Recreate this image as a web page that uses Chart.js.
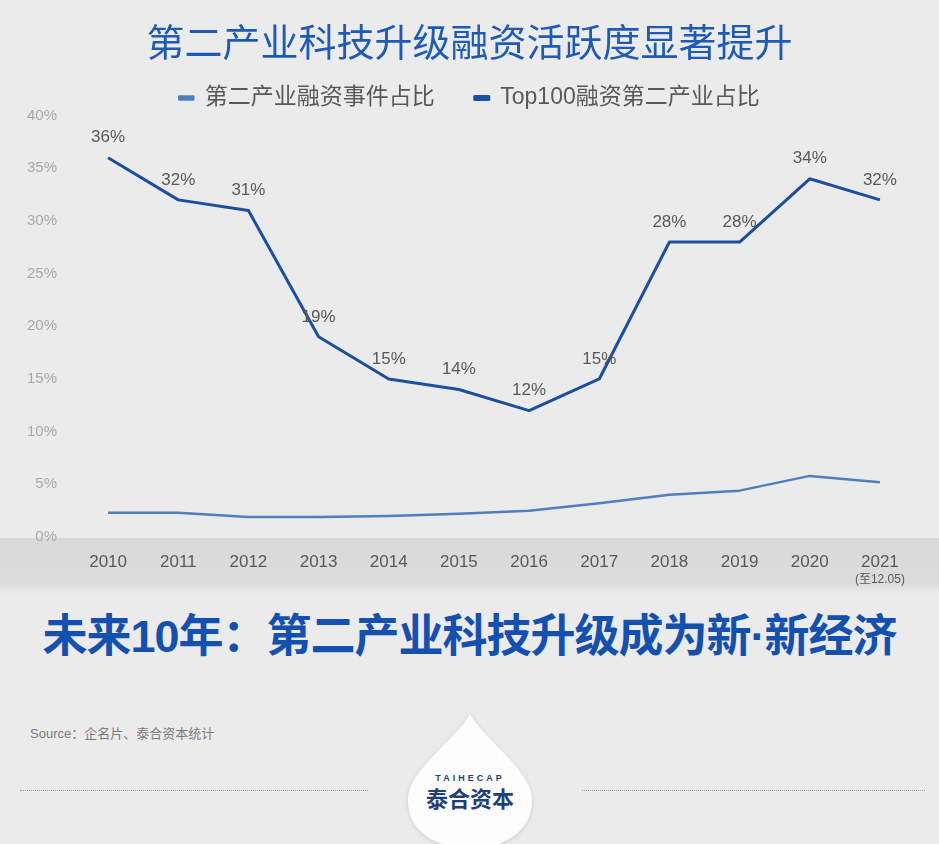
<!DOCTYPE html>
<html>
<head>
<meta charset="utf-8">
<script src="https://cdn.jsdelivr.net/npm/chart.js@4.4.0/dist/chart.umd.min.js"></script>
<style>
  html, body { margin: 0; padding: 0; }
  body { width: 939px; height: 844px; background: #ebebeb; position: relative; overflow: hidden;
         font-family: "Liberation Sans", "Noto Sans CJK SC", sans-serif; }
  #wrap { position: absolute; left: 0; top: 0; width: 939px; height: 600px; }
  .sub { position: absolute; left: 0; width: 939px; top: 600px; text-align: center;
         font: bold 45px "Liberation Sans", "Noto Sans CJK SC", sans-serif; color: #1450b0; letter-spacing: -1px; }
  .src { position: absolute; left: 30px; top: 723px; font: 13px "Liberation Sans", "Noto Sans CJK SC", sans-serif; color: #7a7a7a; }
  .rule { position: absolute; top: 790px; height: 0; border-top: 1px dotted #9aa6b8; }
  .logo { position: absolute; left: 400px; top: 708px; width: 140px; height: 136px; }
</style>
</head>
<body>
<div id="wrap"><canvas id="c"></canvas></div>
<div class="sub">未来10年：第二产业科技升级成为新·新经济</div>
<div class="src">Source：企名片、泰合资本统计</div>
<div class="rule" style="left:20px;width:348px"></div>
<div class="rule" style="left:582px;width:343px"></div>
<svg class="logo" viewBox="0 0 140 136">
  <defs>
    <filter id="sh" x="-20%" y="-20%" width="140%" height="140%">
      <feDropShadow dx="0" dy="1" stdDeviation="2" flood-color="#000" flood-opacity="0.15"/>
    </filter>
  </defs>
  <path d="M70 6 C82 30 132 62 132 92 C132 124 104 140 70 140 C36 140 8 124 8 92 C8 62 58 30 70 6 Z" fill="#fdfdfd" filter="url(#sh)"/>
  <text x="70" y="73" text-anchor="middle" font-family="Liberation Sans" font-weight="bold" font-size="9" letter-spacing="3" fill="#1d3f7a">TAIHECAP</text>
  <text x="70" y="99" text-anchor="middle" font-family="Noto Sans CJK SC" font-weight="bold" font-size="22" fill="#1d3f7a">泰合资本</text>
</svg>
<script>
var years = ['2010', '2011', '2012', '2013', '2014', '2015', '2016', '2017', '2018', '2019', '2020', '2021'];
var eventShare = [2.3, 2.3, 1.9, 1.9, 2.0, 2.2, 2.5, 3.2, 4.0, 4.4, 5.8, 5.2];
var top100Share = [36, 32, 31, 19, 15, 14, 12, 15, 28, 28, 34, 32];
var seriesNames = ['第二产业融资事件占比', 'Top100融资第二产业占比'];
var lastYearNote = '(至12.05)';

var CN = '"Liberation Sans", "Noto Sans CJK SC", sans-serif';

// band behind the x labels, plus the small note under 2021
var bandPlugin = {
  id: 'band',
  beforeDraw: function (chart) {
    var ctx = chart.ctx, a = chart.chartArea;
    var g = ctx.createLinearGradient(0, a.bottom, 0, a.bottom + 62);
    g.addColorStop(0, '#d9d9d9');
    g.addColorStop(0.75, '#dcdcdc');
    g.addColorStop(1, 'rgba(235,235,235,0)');
    ctx.save();
    ctx.fillStyle = g;
    ctx.fillRect(0, a.bottom + 1, chart.width, 62);
    ctx.restore();
  },
  afterDraw: function (chart) {
    var x = chart.scales.x, ctx = chart.ctx;
    ctx.save();
    ctx.font = '12px ' + CN;
    ctx.fillStyle = '#595959';
    ctx.textAlign = 'center';
    ctx.textBaseline = 'middle';
    ctx.fillText(lastYearNote, x.getPixelForTick(years.length - 1), chart.chartArea.bottom + 43);
    ctx.restore();
  }
};

var valueLabels = {
  id: 'valueLabels',
  afterDatasetsDraw: function (chart) {
    var ctx = chart.ctx;
    var meta = chart.getDatasetMeta(1);
    ctx.save();
    ctx.font = '17px ' + CN;
    ctx.fillStyle = '#595959';
    ctx.textAlign = 'center';
    ctx.textBaseline = 'middle';
    meta.data.forEach(function (pt, i) {
      ctx.fillText(top100Share[i] + '%', pt.x, pt.y - 20);
    });
    ctx.restore();
  }
};

var legendTrim = {
  id: 'legendTrim',
  beforeInit: function (chart) {
    var fit = chart.legend.fit;
    chart.legend.fit = function () {
      fit.bind(chart.legend)();
      this.height -= 4;
    };
  }
};

new Chart(document.getElementById('c'), {
  type: 'line',
  data: {
    labels: years,
    datasets: [
      { label: seriesNames[0], data: eventShare, borderColor: '#4f7fbf', backgroundColor: '#4f7fbf',
        borderWidth: 2.5, pointRadius: 0, tension: 0, borderJoinStyle: 'round' },
      { label: seriesNames[1], data: top100Share, borderColor: '#1b4f9f', backgroundColor: '#1b4f9f',
        borderWidth: 3, pointRadius: 0, tension: 0, borderJoinStyle: 'round' }
    ]
  },
  options: {
    responsive: true,
    maintainAspectRatio: false,
    animation: false,
    layout: { padding: { left: 12, right: 12, top: 0, bottom: 0 } },
    plugins: {
      title: {
        display: true,
        text: '第二产业科技升级融资活跃度显著提升',
        color: '#1d5bb6',
        font: { family: '"Noto Sans CJK SC", sans-serif', size: 38, weight: 'normal' },
        padding: { top: 19, bottom: -18 }
      },
      legend: {
        display: true,
        labels: {
          color: '#595959',
          font: { family: CN, size: 23 },
          boxWidth: 14,
          boxHeight: 3,
          padding: 40
        }
      },
      tooltip: { enabled: false }
    },
    scales: {
      x: {
        offset: true,
        grid: { display: false },
        border: { display: false },
        ticks: { color: '#595959', font: { family: CN, size: 17 }, padding: 7, maxRotation: 0 },
        afterFit: function (s) { s.height = 63; }
      },
      y: {
        min: 0,
        max: 40,
        grid: { display: false },
        border: { display: false },
        ticks: { stepSize: 5, color: '#a8a8a8', font: { family: CN, size: 15 }, padding: 8,
                 callback: function (v) { return v + '%'; } },
        afterFit: function (s) { s.width = 61; }
      },
      yRight: {
        position: 'right',
        grid: { display: false },
        border: { display: false },
        ticks: { display: false },
        afterFit: function (s) { s.width = 12; }
      }
    }
  },
  plugins: [bandPlugin, valueLabels, legendTrim]
});
</script>
</body>
</html>
